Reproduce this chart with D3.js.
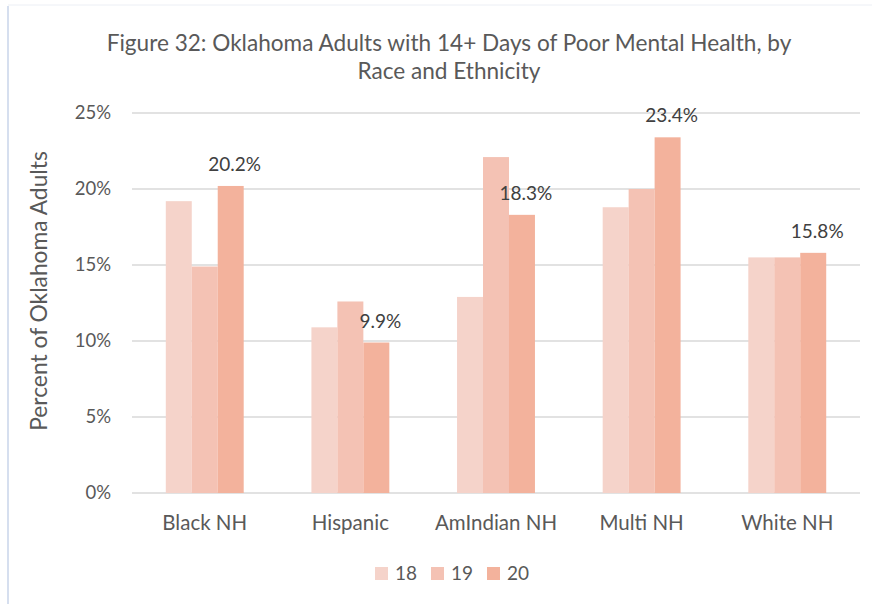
<!DOCTYPE html>
<html>
<head>
<meta charset="utf-8">
<script src="https://cdn.jsdelivr.net/npm/d3@7"></script>
<style>
  body { margin: 0; background: #fff; }
  svg { display: block; font-family: Lato, "Open Sans", sans-serif; }
</style>
</head>
<body>
<div id="chart"></div>
<script>
// Chart data
const categories = ["Black NH", "Hispanic", "AmIndian NH", "Multi NH", "White NH"];
const years = ["18", "19", "20"];
const values18 = [19.2, 10.9, 12.9, 18.8, 15.5];
const values19 = [14.9, 12.6, 22.1, 20.0, 15.5];
const values20 = [20.2, 9.9, 18.3, 23.4, 15.8];
const yTicks = [0, 5, 10, 15, 20, 25];
const colors = ["#f5d3ca", "#f4c2b4", "#f3b29c"];

const width = 872, height = 604;
const margin = { top: 113, right: 12, bottom: 111, left: 132 };

const series = [values18, values19, values20];

const svg = d3.select("#chart")
    .append("svg")
    .attr("width", width)
    .attr("height", height);

// chart frame edges
svg.append("line")
    .attr("x1", 8).attr("x2", 8).attr("y1", 6).attr("y2", height)
    .attr("stroke", "#c9d5ea").attr("stroke-width", 1.5);
svg.append("line")
    .attr("x1", 8).attr("x2", width).attr("y1", 5).attr("y2", 5)
    .attr("stroke", "#eceff5").attr("stroke-width", 1);

const x = d3.scaleBand()
    .domain(categories)
    .range([margin.left, width - margin.right])
    .paddingInner(0.465)
    .paddingOuter(0.232);

const xInner = d3.scaleBand()
    .domain(years)
    .range([0, x.bandwidth()]);

const y = d3.scaleLinear()
    .domain([0, 25])
    .range([height - margin.bottom, margin.top]);

// Gridlines
svg.append("g")
    .selectAll("line")
    .data(yTicks)
    .enter().append("line")
    .attr("x1", margin.left)
    .attr("x2", width - margin.right)
    .attr("y1", d => y(d))
    .attr("y2", d => y(d))
    .attr("stroke", "#d9d9d9")
    .attr("stroke-width", 1.5);

// Y tick labels
svg.append("g")
    .selectAll("text")
    .data(yTicks)
    .enter().append("text")
    .attr("x", 111)
    .attr("y", d => y(d) + 6)
    .attr("text-anchor", "end")
    .attr("font-size", 18.5)
    .attr("fill", "#595959")
    .text(d => d + "%");

// Bars
const groups = svg.append("g")
    .selectAll("g")
    .data(categories)
    .enter().append("g")
    .attr("transform", d => `translate(${x(d)},0)`);

groups.selectAll("rect")
    .data((d, i) => years.map((yr, j) => ({ year: yr, value: series[j][i], idx: j })))
    .enter().append("rect")
    .attr("x", d => xInner(d.year))
    .attr("width", xInner.bandwidth())
    .attr("y", d => y(d.value))
    .attr("height", d => y(0) - y(d.value))
    .attr("fill", d => colors[d.idx]);

// Data labels on the 2020 bars
groups.append("text")
    .attr("x", xInner("20") + xInner.bandwidth() / 2 + 4)
    .attr("y", (d, i) => y(values20[i]) - 15)
    .attr("text-anchor", "middle")
    .attr("font-size", 19)
    .attr("fill", "#404040")
    .text((d, i) => values20[i].toFixed(1) + "%");

// X labels
svg.append("g")
    .selectAll("text")
    .data(categories)
    .enter().append("text")
    .attr("x", d => x(d) + x.bandwidth() / 2)
    .attr("y", 530)
    .attr("text-anchor", "middle")
    .attr("font-size", 20.5)
    .attr("fill", "#595959")
    .text(d => d);

// Y axis title
svg.append("text")
    .attr("transform", "translate(47,291) rotate(-90)")
    .attr("text-anchor", "middle")
    .attr("font-size", 22.8)
    .attr("fill", "#595959")
    .text("Percent of Oklahoma Adults");

// Title
const title = svg.append("text")
    .attr("text-anchor", "middle")
    .attr("font-size", 22.6)
    .attr("fill", "#595959");
title.append("tspan").attr("x", 449).attr("y", 51)
    .text("Figure 32: Oklahoma Adults with 14+ Days of Poor Mental Health, by");
title.append("tspan").attr("x", 449).attr("y", 79)
    .text("Race and Ethnicity");

// Legend
const legendX = [375, 431, 487];
const legend = svg.append("g")
    .selectAll("g")
    .data(years)
    .enter().append("g")
    .attr("transform", (d, i) => `translate(${legendX[i]},567)`);

legend.append("rect")
    .attr("width", 13)
    .attr("height", 13)
    .attr("fill", (d, i) => colors[i]);

legend.append("text")
    .attr("x", 20)
    .attr("y", 12.5)
    .attr("font-size", 19)
    .attr("fill", "#595959")
    .text(d => d);
</script>
</body>
</html>
